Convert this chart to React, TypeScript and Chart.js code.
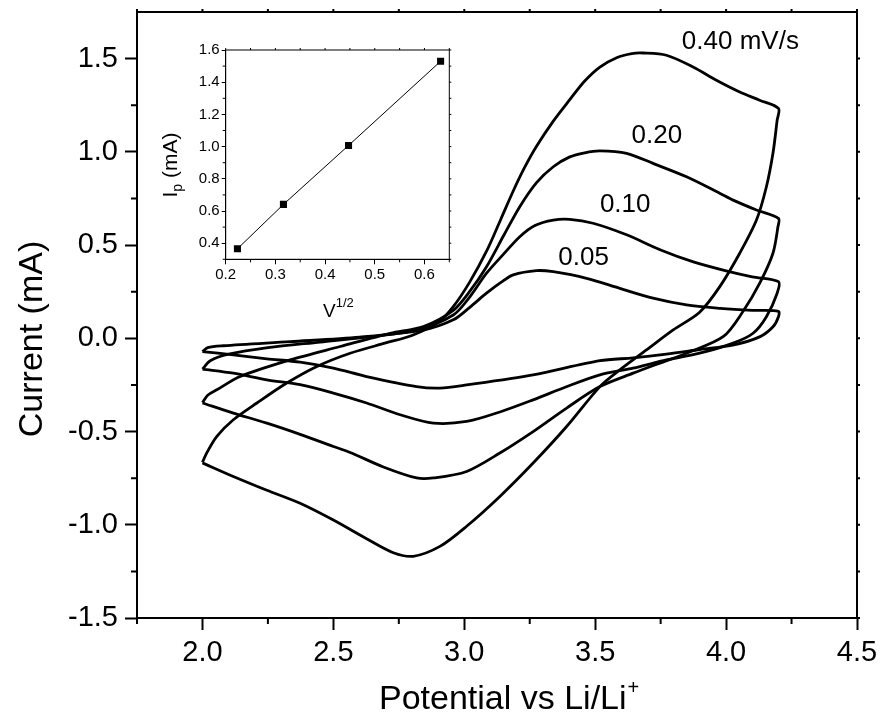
import React, { useEffect, useRef } from 'react';
import { Chart, registerables } from 'chart.js';

Chart.register(...registerables);

const FONT = '"Liberation Sans", Arial, Helvetica, sans-serif';

// ---- Cyclic voltammograms (potential V vs Li/Li+, current mA); anodic sweep then cathodic sweep ----
const cv040Potential = [
  2.0, 2.017, 2.055, 2.118, 2.208, 2.322, 2.437, 2.564, 2.7, 2.8, 2.9, 2.958, 3.02, 3.086, 3.14, 3.187,
  3.23, 3.276, 3.34, 3.403, 3.46, 3.518, 3.582, 3.64, 3.683, 3.772, 3.874, 3.963, 4.052, 4.128, 4.2,
  4.195, 4.179, 4.154, 4.116, 4.052, 3.976, 3.899, 3.798, 3.696, 3.594, 3.518, 3.391, 3.263, 3.136,
  3.009, 2.907, 2.805, 2.729, 2.627, 2.5, 2.373, 2.246, 2.118, 2.0,
];
const cv040Current = [
  -0.665, -0.613, -0.526, -0.437, -0.347, -0.24, -0.151, -0.08, -0.025, 0.015, 0.085, 0.17, 0.3, 0.47, 0.64, 0.79,
  0.915, 1.03, 1.165, 1.28, 1.38, 1.455, 1.505, 1.527, 1.53, 1.518, 1.455, 1.384, 1.321, 1.277, 1.233,
  1.17, 0.992, 0.813, 0.634, 0.456, 0.277, 0.14, 0.045, -0.062, -0.169, -0.259, -0.473, -0.669, -0.848,
  -1.008, -1.116, -1.169, -1.15, -1.075, -0.975, -0.885, -0.815, -0.741, -0.668,
];

const cv020Potential = [
  2.0, 2.02, 2.055, 2.144, 2.335, 2.526, 2.717, 2.844, 2.958, 3.02, 3.085, 3.15, 3.212, 3.276, 3.34, 3.403,
  3.46, 3.518, 3.62, 3.721, 3.849, 3.977, 4.027, 4.116, 4.2,
  4.198, 4.179, 4.13, 4.065, 3.99, 3.849, 3.747, 3.645, 3.518, 3.391, 3.263, 3.136, 3.009, 2.882, 2.818,
  2.691, 2.564, 2.5, 2.373, 2.246, 2.118, 2.0,
];
const cv020Current = [
  -0.345, -0.305, -0.276, -0.205, -0.116, -0.044, 0.027, 0.063, 0.15, 0.25, 0.384, 0.55, 0.706, 0.835, 0.92, 0.973,
  0.995, 1.005, 0.992, 0.938, 0.866, 0.777, 0.741, 0.688, 0.643,
  0.598, 0.456, 0.3, 0.145, 0.01, -0.08, -0.133, -0.187, -0.259, -0.374, -0.5, -0.615, -0.714, -0.749, -0.749,
  -0.69, -0.612, -0.58, -0.515, -0.455, -0.401, -0.347,
];

const cv010Potential = [
  2.0, 2.03, 2.1, 2.25, 2.45, 2.65, 2.82, 2.958, 3.02, 3.085, 3.149, 3.212, 3.27, 3.34, 3.403, 3.492,
  3.62, 3.75, 3.875, 4.0, 4.1, 4.2,
  4.195, 4.154, 4.103, 4.027, 3.899, 3.772, 3.645, 3.518, 3.39, 3.263, 3.136, 3.009, 2.882, 2.755, 2.627,
  2.5, 2.373, 2.246, 2.118, 2.0,
];
const cv010Current = [
  -0.165, -0.12, -0.085, -0.05, -0.02, 0.01, 0.045, 0.125, 0.22, 0.349, 0.45, 0.545, 0.605, 0.634, 0.638, 0.617,
  0.555, 0.474, 0.41, 0.362, 0.33, 0.304,
  0.242, 0.116, 0.027, -0.026, -0.08, -0.116, -0.16, -0.196, -0.26, -0.33, -0.395, -0.446, -0.455, -0.41, -0.347,
  -0.294, -0.249, -0.223, -0.187, -0.165,
];

const cv005Potential = [
  2.0, 2.02, 2.08, 2.335, 2.6, 2.844, 2.958, 3.02, 3.085, 3.14, 3.187, 3.276, 3.34, 3.467, 3.594, 3.721,
  3.849, 3.977, 4.1, 4.2,
  4.2, 4.18, 4.13, 4.03, 3.9, 3.772, 3.645, 3.518, 3.263, 3.009, 2.907, 2.818, 2.627, 2.5, 2.373, 2.246,
  2.118, 2.0,
];
const cv005Current = [
  -0.071, -0.05, -0.04, -0.018, 0.006, 0.045, 0.099, 0.165, 0.242, 0.3, 0.34, 0.363, 0.357, 0.322, 0.268, 0.215,
  0.179, 0.161, 0.15, 0.145,
  0.116, 0.063, 0.009, -0.035, -0.06, -0.085, -0.105, -0.12, -0.196, -0.25, -0.267, -0.259, -0.205, -0.16, -0.128, -0.11,
  -0.089, -0.071,
];

// curve labels (text, anchor potential, anchor current)
const curveLabels = ['0.40 mV/s', '0.20', '0.10', '0.05'];
const curveLabelPotential = [3.831, 3.639, 3.518, 3.359];
const curveLabelCurrent = [1.554, 1.045, 0.679, 0.393];

// main axes ticks
const xMajorTicks = [2.0, 2.5, 3.0, 3.5, 4.0, 4.5];
const xMinorTicks = [1.75, 2.25, 2.75, 3.25, 3.75, 4.25];
const yMajorTicks = [-1.5, -1.0, -0.5, 0.0, 0.5, 1.0, 1.5];
const yMinorTicks = [-1.25, -0.75, -0.25, 0.25, 0.75, 1.25];

// ---- Inset: peak current vs square root of scan rate ----
const sqrtScanRate = [0.2236, 0.3162, 0.4472, 0.6325];
const peakCurrent = [0.365, 0.641, 1.007, 1.53];
const insetXMajorTicks = [0.2, 0.3, 0.4, 0.5, 0.6];
const insetXMinorTicks = [0.25, 0.35, 0.45, 0.55, 0.65];
const insetYMajorTicks = [0.4, 0.6, 0.8, 1.0, 1.2, 1.4, 1.6];
const insetYMinorTicks = [0.3, 0.5, 0.7, 0.9, 1.1, 1.3, 1.5];

const toPoints = (xs: number[], ys: number[]) => xs.map((x, i) => ({ x, y: ys[i] }));

const cvDataset = (label: string, xs: number[], ys: number[]) => ({
  label,
  data: toPoints(xs, ys),
  showLine: true,
  borderColor: '#000',
  borderWidth: 2.8,
  pointRadius: 0,
  tension: 0.3,
  fill: false,
});

const noEdgePadding = (s: any) => {
  s.paddingTop = 0;
  s.paddingBottom = 0;
  s.paddingLeft = 0;
  s.paddingRight = 0;
};

const mainFramePlugin = {
  id: 'mainFrame',
  afterDraw(chart: any) {
    const { ctx, chartArea: a, scales } = chart;
    const x = scales.x;
    const y = scales.y;
    ctx.save();
    ctx.strokeStyle = '#000';
    ctx.lineWidth = 2;
    ctx.strokeRect(a.left, a.top, a.right - a.left, a.bottom - a.top);
    ctx.beginPath();
    xMinorTicks.forEach((v) => {
      const px = x.getPixelForValue(v);
      ctx.moveTo(px, a.bottom);
      ctx.lineTo(px, a.bottom + 6);
    });
    yMinorTicks.forEach((v) => {
      const py = y.getPixelForValue(v);
      ctx.moveTo(a.left, py);
      ctx.lineTo(a.left - 6, py);
    });
    [...xMajorTicks, ...xMinorTicks].forEach((v) => {
      const px = x.getPixelForValue(v);
      ctx.moveTo(px, a.top);
      ctx.lineTo(px, a.top - 3);
    });
    [...yMajorTicks, ...yMinorTicks].forEach((v) => {
      const py = y.getPixelForValue(v);
      ctx.moveTo(a.right, py);
      ctx.lineTo(a.right + 3, py);
    });
    ctx.stroke();

    // curve labels
    ctx.fillStyle = '#000';
    ctx.font = `26px ${FONT}`;
    ctx.textAlign = 'left';
    ctx.textBaseline = 'alphabetic';
    curveLabels.forEach((t, i) => {
      ctx.fillText(t, x.getPixelForValue(curveLabelPotential[i]), y.getPixelForValue(curveLabelCurrent[i]));
    });

    // axis titles
    ctx.font = `34px ${FONT}`;
    const main = 'Potential vs Li/Li';
    const tx = 379;
    const ty = 709;
    ctx.fillText(main, tx, ty);
    const w = ctx.measureText(main).width;
    ctx.font = `20px ${FONT}`;
    ctx.fillText('+', tx + w + 1, ty - 15);

    ctx.font = `34px ${FONT}`;
    ctx.translate(41.5, 339);
    ctx.rotate(-Math.PI / 2);
    ctx.textAlign = 'center';
    ctx.fillText('Current (mA)', 0, 0);
    ctx.restore();
  },
};

const insetFramePlugin = {
  id: 'insetFrame',
  afterDraw(chart: any) {
    const { ctx, chartArea: a, scales } = chart;
    const x = scales.x;
    const y = scales.y;
    ctx.save();
    ctx.strokeStyle = '#000';
    ctx.lineWidth = 1;
    ctx.strokeRect(a.left, a.top, a.right - a.left, a.bottom - a.top);
    ctx.beginPath();
    insetXMinorTicks.forEach((v) => {
      const px = x.getPixelForValue(v);
      ctx.moveTo(px, a.bottom);
      ctx.lineTo(px, a.bottom + 3);
    });
    insetYMinorTicks.forEach((v) => {
      const py = y.getPixelForValue(v);
      ctx.moveTo(a.left, py);
      ctx.lineTo(a.left - 3, py);
    });
    [...insetXMajorTicks, ...insetXMinorTicks].forEach((v) => {
      const px = x.getPixelForValue(v);
      ctx.moveTo(px, a.top);
      ctx.lineTo(px, a.top - 2);
    });
    [...insetYMajorTicks, ...insetYMinorTicks].forEach((v) => {
      const py = y.getPixelForValue(v);
      ctx.moveTo(a.right, py);
      ctx.lineTo(a.right + 2, py);
    });
    ctx.stroke();

    ctx.fillStyle = '#000';
    ctx.textAlign = 'left';
    ctx.textBaseline = 'alphabetic';
    // x title: V^1/2
    const vx = 183;
    const vy = 287;
    ctx.font = `19px ${FONT}`;
    ctx.fillText('V', vx, vy);
    const vw = ctx.measureText('V').width;
    ctx.font = `13px ${FONT}`;
    ctx.fillText('1/2', vx + vw, vy - 10);

    // y title: I_p (mA)
    ctx.translate(37, 135);
    ctx.rotate(-Math.PI / 2);
    ctx.font = `21px ${FONT}`;
    const iw = ctx.measureText('I').width;
    const pFont = `14px ${FONT}`;
    ctx.font = pFont;
    const pw = ctx.measureText('p').width;
    ctx.font = `21px ${FONT}`;
    const rest = ' (mA)';
    const rw = ctx.measureText(rest).width;
    const total = iw + pw + rw;
    let cx = -total / 2;
    ctx.fillText('I', cx, 0);
    cx += iw;
    ctx.font = pFont;
    ctx.fillText('p', cx, 5);
    cx += pw;
    ctx.font = `21px ${FONT}`;
    ctx.fillText(rest, cx, 0);
    ctx.restore();
  },
};

export default function App() {
  const mainRef = useRef<HTMLCanvasElement | null>(null);
  const insetRef = useRef<HTMLCanvasElement | null>(null);

  useEffect(() => {
    if (!mainRef.current || !insetRef.current) return;
    const tickFont = { family: FONT, size: 29 };
    const mainChart = new Chart(mainRef.current, {
      type: 'scatter',
      data: {
        datasets: [
          cvDataset('0.40 mV/s', cv040Potential, cv040Current),
          cvDataset('0.20 mV/s', cv020Potential, cv020Current),
          cvDataset('0.10 mV/s', cv010Potential, cv010Current),
          cvDataset('0.05 mV/s', cv005Potential, cv005Current),
        ],
      },
      options: {
        responsive: false,
        animation: false,
        devicePixelRatio: 1,
        layout: { padding: { top: 12, right: 26, left: 0, bottom: 0 } },
        plugins: { legend: { display: false }, tooltip: { enabled: false } },
        scales: {
          x: {
            type: 'linear',
            min: 1.75,
            max: 4.5,
            afterBuildTicks: (s: any) => {
              s.ticks = xMajorTicks.map((v) => ({ value: v }));
            },
            afterFit: (s: any) => {
              s.height = 101;
              noEdgePadding(s);
            },
            ticks: {
              font: tickFont,
              color: '#000',
              padding: 6,
              maxRotation: 0,
              callback: (v: any) => Number(v).toFixed(1),
            },
            grid: {
              drawOnChartArea: false,
              drawTicks: true,
              tickLength: 12,
              tickWidth: 2,
              tickColor: '#000',
              color: '#000',
            },
            border: { display: true, color: '#000', width: 2 },
          },
          y: {
            type: 'linear',
            min: -1.5,
            max: 1.75,
            afterBuildTicks: (s: any) => {
              s.ticks = yMajorTicks.map((v) => ({ value: v }));
            },
            afterFit: (s: any) => {
              s.width = 137;
              noEdgePadding(s);
            },
            ticks: {
              font: tickFont,
              color: '#000',
              padding: 7,
              callback: (v: any) => Number(v).toFixed(1),
            },
            grid: {
              drawOnChartArea: false,
              drawTicks: true,
              tickLength: 12,
              tickWidth: 2,
              tickColor: '#000',
              color: '#000',
            },
            border: { display: true, color: '#000', width: 2 },
          },
        },
      },
      plugins: [mainFramePlugin],
    });

    const insetTickFont = { family: FONT, size: 15 };
    const insetChart = new Chart(insetRef.current, {
      type: 'scatter',
      data: {
        datasets: [
          {
            label: 'Ip',
            data: toPoints(sqrtScanRate, peakCurrent),
            showLine: true,
            borderColor: '#000',
            borderWidth: 1,
            backgroundColor: '#000',
            pointStyle: 'rect',
            pointRadius: 5,
            pointBorderWidth: 0,
            tension: 0,
          },
        ],
      },
      options: {
        responsive: false,
        animation: false,
        devicePixelRatio: 1,
        layout: { padding: { top: 20, right: 20.7, left: 0, bottom: 0 } },
        plugins: { legend: { display: false }, tooltip: { enabled: false } },
        scales: {
          x: {
            type: 'linear',
            min: 0.2,
            max: 0.65,
            afterBuildTicks: (s: any) => {
              s.ticks = insetXMajorTicks.map((v) => ({ value: v }));
            },
            afterFit: (s: any) => {
              s.height = 70.7;
              noEdgePadding(s);
            },
            ticks: {
              font: insetTickFont,
              color: '#000',
              padding: 2,
              maxRotation: 0,
              callback: (v: any) => Number(v).toFixed(1),
            },
            grid: {
              drawOnChartArea: false,
              drawTicks: true,
              tickLength: 5,
              tickWidth: 1,
              tickColor: '#000',
              color: '#000',
            },
            border: { display: true, color: '#000', width: 1 },
          },
          y: {
            type: 'linear',
            min: 0.3,
            max: 1.6,
            afterBuildTicks: (s: any) => {
              s.ticks = insetYMajorTicks.map((v) => ({ value: v }));
            },
            afterFit: (s: any) => {
              s.width = 85.7;
              noEdgePadding(s);
            },
            ticks: {
              font: insetTickFont,
              color: '#000',
              padding: 2,
              callback: (v: any) => Number(v).toFixed(1),
            },
            grid: {
              drawOnChartArea: false,
              drawTicks: true,
              tickLength: 4,
              tickWidth: 1,
              tickColor: '#000',
              color: '#000',
            },
            border: { display: true, color: '#000', width: 1 },
          },
        },
      },
      plugins: [insetFramePlugin],
    });

    return () => {
      mainChart.destroy();
      insetChart.destroy();
    };
  }, []);

  return (
    <div style={{ position: 'absolute', left: 0, top: 0, width: 883, height: 719, background: '#fff' }}>
      <canvas ref={mainRef} width={883} height={719} style={{ position: 'absolute', left: 0, top: 0, width: 883, height: 719 }} />
      <canvas ref={insetRef} width={330} height={300} style={{ position: 'absolute', left: 140, top: 30, width: 330, height: 300 }} />
    </div>
  );
}
